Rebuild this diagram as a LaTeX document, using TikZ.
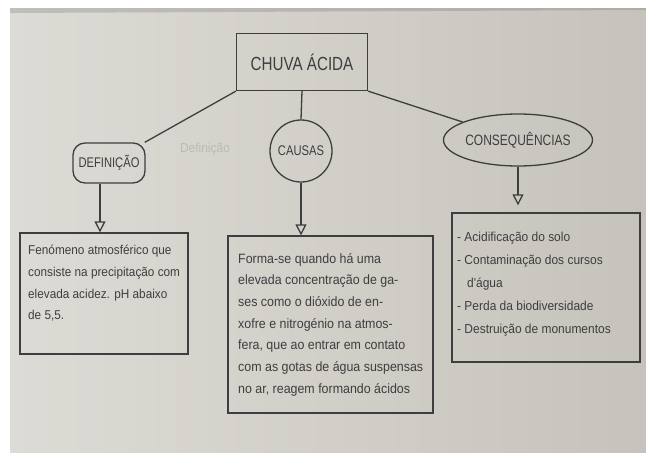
\documentclass[tikz,border=0pt]{standalone}
\usepackage{fontspec}
\setmainfont{Liberation Sans}[FakeStretch=0.8]
\newfontfamily\handfont{Liberation Sans}[FakeStretch=0.92]
\usetikzlibrary{arrows.meta,shapes.geometric}
\definecolor{pencil}{RGB}{62,62,64}
\definecolor{paperL}{RGB}{221,219,213}
\definecolor{paperR}{RGB}{198,195,188}
\definecolor{erasedc}{RGB}{188,186,180}
\tikzset{
  x=1pt, y=-1pt,
  ink/.style={draw=pencil, line width=1.3pt},
  label/.style={text=pencil, inner sep=0pt},
  arr/.style={ink, -{Triangle[open, length=11pt, width=11pt]}},
  para/.style={text=pencil, align=left, anchor=north west, inner sep=0pt, font=\handfont\fontsize{13.5}{21.7}\selectfont},
}
\begin{document}
\begin{tikzpicture}
\useasboundingbox (0,0) rectangle (646,453);
\fill[white] (0,0) rectangle (646,453);
\shade[left color=paperL, right color=paperR] (10,8) rectangle (646,453);
\fill[gray!60!black, opacity=0.2] (10,8) -- (646,8) -- (646,10) -- (10,13) -- cycle;

% top level
\node[ink, rectangle, minimum width=131pt, minimum height=57pt, label, font=\fontsize{19}{19}\selectfont] (title) at (302,62) {CHUVA ÁCIDA};

% categories
\node[ink, rectangle, rounded corners=12pt, minimum width=72pt, minimum height=40pt, label, font=\fontsize{14}{14}\selectfont] (def) at (109,163) {DEFINIÇÃO};
\node[ink, circle, minimum size=62pt, label, font=\fontsize{14}{14}\selectfont] (causas) at (301,151) {CAUSAS};
\node[ink, ellipse, minimum width=120pt, minimum height=52pt, inner sep=0pt, label, font=\fontsize{15}{15}\selectfont] (cons) at (518,140) {CONSEQUÊNCIAS};

% faint erased word
\node[text=erasedc, font=\handfont\fontsize{13}{13}\selectfont] (erased) at (205,149) {Definição};

% connectors
\draw[ink] (title.south west) -- (def.30);
\draw[ink] (title.south) -- (causas.north);
\draw[ink] (title.south east) -- (cons.162);

% description boxes
\node[ink, rectangle, minimum width=168pt, minimum height=121pt] (defbox) at (104,293.5) {};
\node[ink, rectangle, minimum width=205pt, minimum height=177pt] (causbox) at (330.5,324.5) {};
\node[ink, rectangle, minimum width=188pt, minimum height=149pt] (consbox) at (546,287.5) {};

\draw[arr] ([xshift=-9pt]def.south) -- ([xshift=-9pt]def.south |- defbox.north);
\draw[arr] (causas.south) -- (causas.south |- causbox.north);
\draw[arr, shorten >=7pt] (cons.south) -- (cons.south |- consbox.north);

% texts
\node[para, font=\handfont\fontsize{12.8}{21.7}\selectfont] (deftext) at (28,245) {Fenómeno atmosférico que\\consiste na precipitação com\\elevada acidez. pH abaixo\\de 5,5.};
\node[para] (caustext) at (238,253) {Forma-se quando há uma\\elevada concentração de ga-\\ses como o dióxido de en-\\xofre e nitrogénio na atmos-\\fera, que ao entrar em contato\\com as gotas de água suspensas\\no ar, reagem formando ácidos};
\node[para, font=\handfont\fontsize{13}{23}\selectfont] (constext) at (457,232) {- Acidificação do solo\\- Contaminação dos cursos\\\ \ \ d'água\\- Perda da biodiversidade\\- Destruição de monumentos};
\end{tikzpicture}
\end{document}
